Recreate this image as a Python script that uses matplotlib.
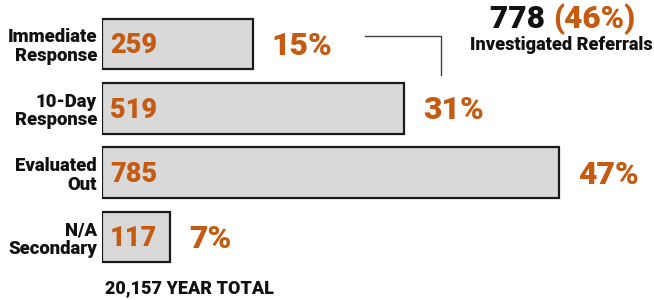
import matplotlib
matplotlib.use("Agg")
import matplotlib.pyplot as plt
from matplotlib.lines import Line2D

# data
categories = ["Immediate\nResponse", "10-Day\nResponse", "Evaluated\nOut", "N/A\nSecondary"]
counts = [259, 519, 785, 117]
year_total = "20,157 YEAR TOTAL"

orange = "#c55a11"
bar_fill = "#d9d9d9"
heavy = 900

plt.rcParams['font.family'] = ['Roboto', 'DejaVu Sans']

W, H = 654, 300
fig = plt.figure(figsize=(W / 100, H / 100), dpi=100)

# axes laid out in pixels: bars start at x=102
px_per_unit = 457 / 785
ax = fig.add_axes([102 / W, 0, (W - 102) / W, 1])
ax.set_xlim(0, (W - 102) / px_per_unit)
row_px = 64.33
ax.set_ylim(3 + (H - 237) / row_px, -44 / row_px)
ax.axis('off')

total = sum(counts)
ypos = list(range(len(categories)))
ax.barh(ypos, counts, height=0.79, color=bar_fill, edgecolor="#1a1a1a", linewidth=1.6)

gap = 19 / px_per_unit
for y, c, name in zip(ypos, counts, categories):
    ax.text(14, y + 0.03, f"{c}", color=orange, fontsize=19.5, fontweight=heavy,
            ha='left', va='center')
    ax.text(c + gap, y + 0.03, f"{round(100 * c / total)}%", color=orange, fontsize=23,
            fontweight=heavy, ha='left', va='center')
    ax.text(-5 / px_per_unit, y + 0.04, name, color="#111111", fontsize=13.3, fontweight=heavy,
            ha='right', va='center', linespacing=1.05)

ax.text(3 / px_per_unit, 3.8, year_total, color="#111111", fontsize=13, fontweight=heavy,
        ha='left', va='center')

# investigated referrals header
investigated = counts[0] + counts[1]
inv_pct = round(100 * investigated / total)
fig.text(553 / W, 1 - 28 / H, f"{investigated} ", color="#111111", fontsize=22.8,
         fontweight=heavy, ha='right', va='baseline')
fig.text(553 / W, 1 - 28 / H, f"({inv_pct}%)", color=orange, fontsize=22.8,
         fontweight=heavy, ha='left', va='baseline')
fig.text(561 / W, 1 - 50 / H, "Investigated Referrals", color="#111111", fontsize=13.1,
         fontweight=heavy, ha='center', va='baseline')

# bracket linking the two response bars to the header
bracket = Line2D([365 / W, 441 / W, 441 / W], [1 - 36 / H, 1 - 36 / H, 1 - 75 / H],
                 transform=fig.transFigure, color="#404040", linewidth=1.0)
fig.add_artist(bracket)

fig.savefig("out.png", dpi=100)
